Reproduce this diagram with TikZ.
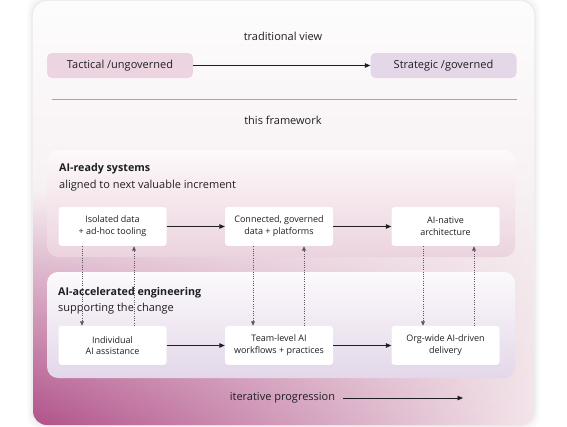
\documentclass[tikz,border=0pt]{standalone}
\usepackage{fontspec}
\setmainfont{Open Sans}
\usetikzlibrary{arrows.meta,fadings,shadows,calc}
\definecolor{txt}{HTML}{1F1F22}
\definecolor{cardtop}{HTML}{FDFCFC}
\definecolor{cardbot}{HTML}{F0E3E8}
\definecolor{pinkL}{HTML}{B1528A}
\definecolor{pinkR}{HTML}{F3E5EA}
\definecolor{tacf}{HTML}{ECD5E0}
\definecolor{strf}{HTML}{E4D8E8}
\definecolor{p1top}{HTML}{FDF9FA}
\definecolor{p1bot}{HTML}{EBD3DE}
\definecolor{p2top}{HTML}{FCFAFC}
\definecolor{p2bot}{HTML}{E3D7E9}
\definecolor{rule}{HTML}{A8A4A6}
\definecolor{dotc}{HTML}{5A575E}
\tikzfading[name=upfade, top color=transparent!100, middle color=transparent!75, bottom color=transparent!0]
\begin{document}
\begin{tikzpicture}[x=1pt,y=-1pt,
  lbl/.style={font=\fontsize{11}{13}\selectfont, text=txt, inner sep=0pt},
  head/.style={font=\fontsize{10.7}{13}\selectfont\bfseries, text=txt, inner sep=0pt, anchor=west},
  sub/.style={font=\fontsize{11}{13}\selectfont, text=txt, inner sep=0pt, anchor=west},
  pill/.style={rounded corners=5pt, minimum width=146pt, minimum height=25pt, inner sep=0pt,
    font=\fontsize{11}{13}\selectfont, text=txt},
  stepbox/.style={fill=white, rounded corners=3pt, minimum width=108pt, minimum height=39pt,
    inner sep=0pt, align=center, font=\fontsize{9}{11.7}\selectfont, text=txt,
    drop shadow={opacity=0.05, shadow xshift=0pt, shadow yshift=-1.2pt}},
  flow/.style={-{Triangle[length=5.5pt,width=4.5pt]}, line width=0.7pt, draw=txt},
  dots/.style={-{Triangle[length=4.5pt,width=3.8pt]}, line width=0.8pt, draw=dotc,
    dash pattern=on 0.9pt off 1.4pt}
]
\useasboundingbox (0,0) rectangle (567,426);
% soft shadow of the card
\foreach \s/\o in {6/0.015,4/0.02,2/0.03}{
  \fill[black, opacity=\o, rounded corners=16pt] (33-\s,1-\s) rectangle (534+\s,425+\s);
}
% card
\shade[rounded corners=14pt, top color=cardtop, bottom color=cardbot] (33,1) rectangle (534,425);
\begin{scope}
  \clip[rounded corners=14pt] (33,1) rectangle (534,425);
  \shade[left color=pinkL, right color=pinkR, path fading=upfade] (33,190) rectangle (534,425);
\end{scope}

% traditional view
\node[lbl] (tv) at (283,36) {traditional view};
\node[pill, fill=tacf] (tac) at (120,65.5) {Tactical /ungoverned};
\node[pill, fill=strf] (str) at (443.5,65.5) {Strategic /governed};
\draw[flow] (tac) -- (str);
\coordinate (rl) at (52,99);
\coordinate (rr) at (517,99);
\draw[rule, line width=0.8pt] (rl) -- (rr);
\node[lbl] (tf) at (283,120) {this framework};

% panels
\shade[rounded corners=11pt, top color=p1top, bottom color=p1bot] (47,150) rectangle (515,257);
\shade[rounded corners=11pt, top color=p2top, bottom color=p2bot] (47,272) rectangle (515,378);

\node[head] (h1) at (59,169) {AI-ready systems};
\node[sub] (s1) at (59,185.5) {aligned to next valuable increment};
\node[head] (h2) at (58,292.5) {AI-accelerated engineering};
\node[sub] (s2) at (58,308.5) {supporting the change};

% row 1
\node[stepbox] (a1) at (112.5,226.5) {Isolated data\\+ ad-hoc tooling};
\node[stepbox] (a2) at (279,226.5) {Connected, governed\\data + platforms};
\node[stepbox] (a3) at (445.5,226.5) {AI-native\\architecture};
% row 2
\node[stepbox] (b1) at (112.5,345.5) {Individual\\AI assistance};
\node[stepbox] (b2) at (279,345.5) {Team-level AI\\workflows + practices};
\node[stepbox] (b3) at (445.5,345.5) {Org-wide AI-driven\\delivery};

\draw[flow] (a1) -- (a2);
\draw[flow] (a2) -- (a3);
\draw[flow] (b1) -- (b2);
\draw[flow] (b2) -- (b3);

% dotted links
\draw[dots] ([xshift=-30.5pt]a1.south) -- ([xshift=-30.5pt]b1.north);
\draw[dots] ([xshift=21.5pt]b1.north) -- ([xshift=21.5pt]a1.south);
\draw[dots] ([xshift=-26pt]a2.south) -- ([xshift=-26pt]b2.north);
\draw[dots] ([xshift=25pt]b2.north) -- ([xshift=25pt]a2.south);
\draw[dots] ([xshift=-22.5pt]a3.south) -- ([xshift=-22.5pt]b3.north);
\draw[dots] ([xshift=28.5pt]b3.north) -- ([xshift=28.5pt]a3.south);

% iterative progression
\node[lbl] (ip) at (282.5,398) {iterative progression};
\coordinate (ipend) at (463,398);
\draw[flow] ([xshift=8pt]ip.east) -- (ipend);
\end{tikzpicture}
\end{document}
